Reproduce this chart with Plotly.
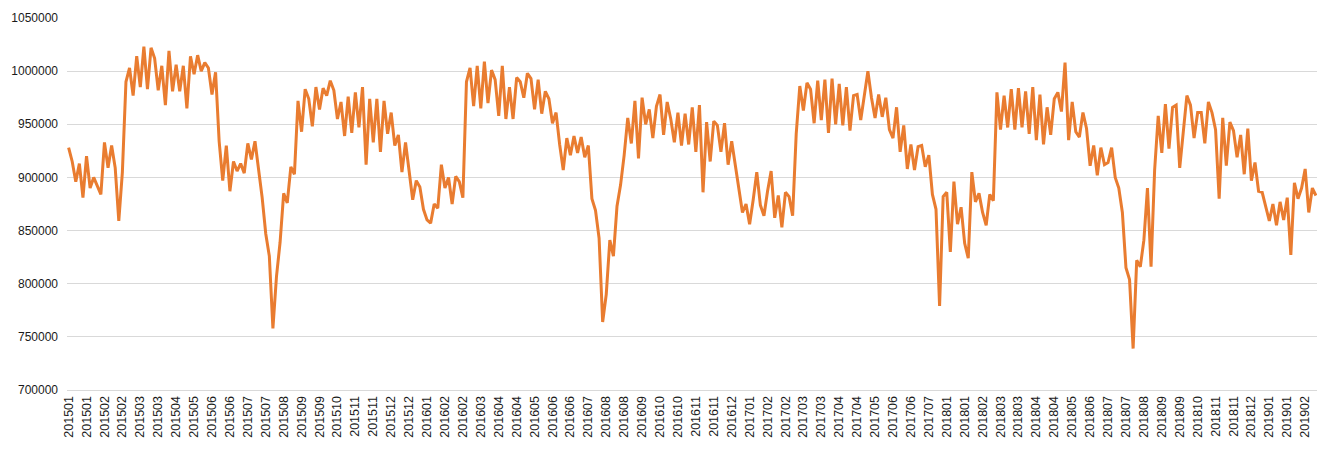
import plotly.graph_objects as go

# Daily-ish series values
values = [
    928000, 915000, 896000, 913000, 881000, 920000, 890000, 900000, 892000, 884000,
    933000, 909000, 930000, 909000, 859000, 905000, 990000, 1003000, 977000, 1014000,
    985000, 1023000, 983000, 1022000, 1012000, 982000, 1005000, 968000, 1019000, 981000,
    1006000, 981000, 1005000, 965000, 1014000, 997000, 1015000, 1000000, 1008000, 1003000,
    978000, 999000, 934000, 897000, 930000, 887000, 915000, 906000, 913000, 904000,
    932000, 917000, 934000, 909000, 881000, 847000, 826000, 758000, 807000, 839000,
    885000, 876000, 910000, 903000, 972000, 943000, 983000, 974000, 948000, 985000,
    964000, 984000, 977000, 991000, 982000, 955000, 971000, 939000, 976000, 942000,
    980000, 947000, 985000, 912000, 974000, 933000, 974000, 924000, 972000, 941000,
    961000, 930000, 940000, 905000, 933000, 906000, 879000, 897000, 891000, 870000,
    860000, 857000, 875000, 871000, 912000, 890000, 900000, 875000, 901000, 896000,
    881000, 990000, 1003000, 967000, 1005000, 965000, 1009000, 970000, 1001000, 992000,
    958000, 1005000, 955000, 985000, 955000, 994000, 990000, 975000, 998000, 993000,
    964000, 992000, 960000, 981000, 974000, 951000, 961000, 931000, 907000, 937000,
    921000, 939000, 923000, 938000, 919000, 930000, 880000, 869000, 843000, 764000,
    790000, 841000, 826000, 873000, 893000, 921000, 956000, 932000, 972000, 918000,
    975000, 950000, 964000, 937000, 967000, 978000, 940000, 971000, 955000, 933000,
    961000, 930000, 960000, 931000, 966000, 924000, 968000, 886000, 952000, 915000,
    953000, 949000, 924000, 951000, 912000, 934000, 913000, 890000, 867000, 875000,
    856000, 879000, 905000, 874000, 864000, 887000, 906000, 862000, 883000, 853000,
    886000, 882000, 864000, 941000, 986000, 963000, 989000, 983000, 951000, 991000,
    954000, 992000, 942000, 993000, 950000, 988000, 949000, 985000, 944000, 977000,
    978000, 954000, 975000, 1000000, 975000, 956000, 978000, 957000, 975000, 945000,
    937000, 966000, 924000, 949000, 908000, 931000, 907000, 929000, 930000, 910000,
    921000, 884000, 870000, 779000, 882000, 886000, 830000, 896000, 856000, 872000,
    838000, 824000, 905000, 877000, 885000, 867000, 855000, 884000, 878000, 980000,
    945000, 977000, 947000, 983000, 945000, 984000, 947000, 981000, 941000, 985000,
    935000, 978000, 931000, 966000, 940000, 974000, 980000, 962000, 1008000, 935000,
    971000, 943000, 938000, 961000, 946000, 911000, 930000, 902000, 928000, 912000,
    914000, 928000, 900000, 890000, 867000, 815000, 804000, 739000, 822000, 816000,
    841000, 890000, 816000, 907000, 958000, 923000, 969000, 927000, 966000, 968000,
    909000, 940000, 977000, 968000, 937000, 961000, 961000, 932000, 971000, 961000,
    945000, 880000, 956000, 911000, 952000, 944000, 919000, 940000, 903000, 946000,
    897000, 914000, 887000, 886000, 872000, 859000, 875000, 855000, 877000, 860000,
    881000, 827000, 895000, 880000, 890000, 908000, 867000, 890000, 883000,
]

# Category labels shown on the x axis (every 5th point)
tick_labels = [
    "201501", "201501", "201502", "201502", "201503", "201503", "201504", "201505",
    "201506", "201506", "201507", "201507", "201508", "201509", "201509", "201510",
    "201511", "201511", "201512", "201512", "201601", "201602", "201602", "201603",
    "201604", "201604", "201605", "201606", "201606", "201607", "201608", "201608",
    "201609", "201610", "201610", "201611", "201611", "201612", "201701", "201702",
    "201702", "201703", "201703", "201704", "201704", "201705", "201706", "201706",
    "201707", "201801", "201801", "201802", "201803", "201803", "201804", "201804",
    "201805", "201806", "201807", "201807", "201808", "201809", "201809", "201810",
    "201811", "201811", "201812", "201901", "201901", "201902",
]
label_step = 5

x = list(range(len(values)))
tickvals = [i * label_step for i in range(len(tick_labels))]

fig = go.Figure()
fig.add_trace(go.Scatter(
    x=x, y=values, mode="lines",
    line=dict(color="#E97C30", width=3),
    hoverinfo="y",
))

fig.update_layout(
    width=1328, height=450,
    margin=dict(l=64, r=11, t=12, b=60),
    plot_bgcolor="white", paper_bgcolor="white",
    showlegend=False,
    font=dict(family="Liberation Sans, Arial, sans-serif", size=12, color="#1a1a1a"),
)
fig.update_xaxes(
    range=[-0.45, len(values) - 0.7],
    tickmode="array", tickvals=tickvals, ticktext=tick_labels,
    tickangle=-90, showgrid=False, zeroline=False,
    showline=True, linecolor="#d9d9d9", linewidth=1,
    ticks="", tickfont=dict(size=12.5),
)
fig.update_yaxes(
    range=[700000, 1050000], dtick=50000, tickformat="d",
    showgrid=True, gridcolor="#d9d9d9", gridwidth=1,
    zeroline=False, showline=False, ticks="",
    ticklabelstandoff=8,
)

fig.write_html(
    "out.html",
    config={"displayModeBar": False},
    post_script="document.body.style.margin='0';",
)
